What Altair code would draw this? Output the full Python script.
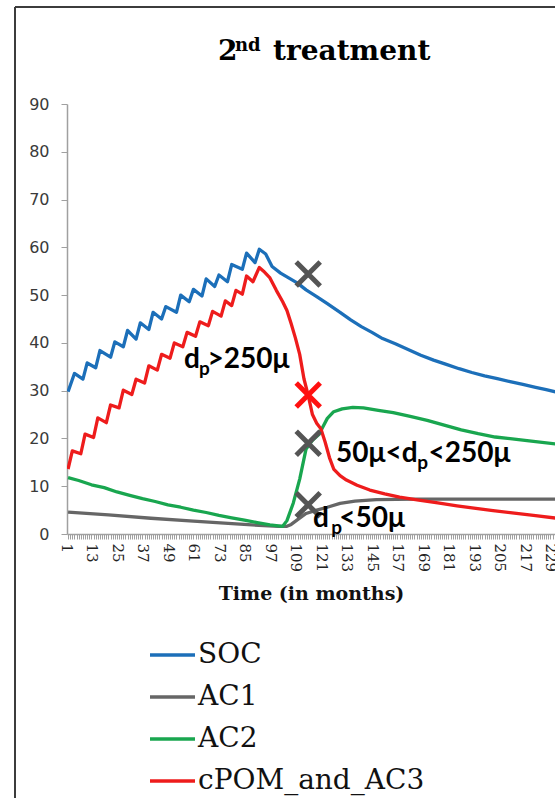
import altair as alt
import pandas as pd

# ---------------- data ----------------
series_names = ["SOC", "AC1", "AC2", "cPOM_and_AC3"]
series_colors = ["#1c6fb9", "#666666", "#19a64f", "#ee1c1c"]

soc_months = [1, 4, 8, 10, 14, 16, 21, 23, 27, 29, 33, 35, 39, 41, 45, 47, 52, 54, 58, 60,
              64, 66, 70, 72, 76, 78, 83, 85, 89, 91, 94, 97, 101, 104, 109, 113, 118, 123,
              129, 134, 139, 144, 149, 155, 161, 167, 173, 179, 185, 191, 197, 203, 209,
              215, 221, 226, 231]
soc_values = [29.8, 33.6, 32.4, 35.8, 34.8, 38.4, 37.0, 40.2, 39.2, 42.6, 40.8, 44.2, 42.8,
              46.4, 45.0, 47.6, 46.4, 50.0, 48.6, 51.2, 49.8, 53.4, 51.8, 54.2, 52.8, 56.4,
              55.4, 58.8, 56.8, 59.6, 58.6, 56.0, 54.6, 53.8, 52.5, 51.1, 49.7, 48.2, 46.4,
              44.8, 43.4, 42.2, 40.9, 39.8, 38.6, 37.4, 36.4, 35.5, 34.6, 33.8, 33.1, 32.5,
              31.9, 31.3, 30.7, 30.2, 29.7]

ac1_months = [1, 20, 40, 60, 80, 100, 104, 106, 109, 113, 118, 123, 129, 136, 146, 165, 231]
ac1_values = [4.6, 4.0, 3.3, 2.7, 2.1, 1.6, 1.6, 2.0, 3.0, 4.3, 5.0, 5.6, 6.4, 6.9, 7.2, 7.3, 7.3]

ac2_months = [1, 6, 12, 18, 24, 30, 36, 42, 48, 54, 60, 66, 72, 78, 84, 90, 96, 102, 104, 107,
              110, 113, 116, 119, 121, 123, 126, 130, 135, 140, 147, 154, 162, 170, 178, 186,
              194, 202, 210, 218, 231]
ac2_values = [11.8, 11.2, 10.3, 9.7, 8.8, 8.1, 7.4, 6.8, 6.1, 5.6, 5.0, 4.5, 3.9, 3.4, 2.9,
              2.4, 1.9, 1.6, 2.8, 6.5, 11.5, 17.8, 19.6, 20.8, 22.5, 24.2, 25.6, 26.2, 26.5,
              26.4, 25.9, 25.4, 24.6, 23.8, 22.8, 21.8, 21.0, 20.3, 19.9, 19.5, 18.8]

cpom_months = [1, 3, 7, 9, 13, 15, 19, 21, 25, 27, 31, 33, 37, 39, 43, 45, 49, 51, 55, 57, 61,
               63, 67, 69, 73, 75, 78, 80, 83, 85, 88, 91, 93, 96, 99, 102, 104, 106, 108,
               110, 112, 114, 116, 118, 120, 122, 124, 126, 129, 132, 137, 143, 150, 157,
               166, 175, 184, 192, 201, 210, 220, 231]
cpom_values = [13.6, 17.4, 16.8, 20.9, 20.2, 24.3, 23.3, 27.0, 26.4, 30.1, 29.2, 32.4, 31.6,
               35.2, 34.3, 37.6, 36.8, 40.0, 39.2, 42.2, 41.4, 44.4, 43.6, 46.6, 45.6, 48.8,
               47.8, 51.0, 50.2, 54.0, 52.8, 55.8, 55.0, 53.6, 51.0, 48.6, 46.8, 44.0, 41.0,
               37.6, 32.5, 29.0, 25.0, 23.2, 22.0, 19.2, 16.0, 13.6, 12.2, 11.3, 10.2, 9.2,
               8.4, 7.7, 7.1, 6.5, 5.9, 5.4, 4.9, 4.4, 3.9, 3.3]

# X markers
marker_months = [114, 114, 114, 114]
marker_values = [54.4, 29.1, 19.0, 6.1]
marker_kind = ["grey", "red", "grey", "grey"]

# annotation pieces (text, anchor month, anchor value)
ann_main_text = ["d", ">250\u03bc", "50\u03bc<", "d", "<250\u03bc", "d", "<50\u03bc"]
ann_main_month = [55.6, 66.6, 127.1, 158.0, 170.6, 116.3, 128.6]
ann_main_value = [34.7, 34.7, 15.1, 15.1, 15.1, 1.5, 1.5]
ann_sub_text = ["p", "p", "p"]
ann_sub_month = [62.6, 165.3, 124.9]
ann_sub_value = [33.3, 13.6, 0.0]

tick_months = list(range(1, 231))
y_ticks = list(range(0, 91, 10))

# ---------------- tables ----------------
rows = []
for name, ms, vs in [("SOC", soc_months, soc_values), ("AC1", ac1_months, ac1_values),
                     ("AC2", ac2_months, ac2_values),
                     ("cPOM_and_AC3", cpom_months, cpom_values)]:
    for m, v in zip(ms, vs):
        rows.append({"series": name, "month": m, "value": v})
df = pd.DataFrame(rows)

mk = pd.DataFrame({"month": marker_months, "value": marker_values, "kind": marker_kind})
am = pd.DataFrame({"t": ann_main_text, "month": ann_main_month, "value": ann_main_value})
asub = pd.DataFrame({"t": ann_sub_text, "month": ann_sub_month, "value": ann_sub_value})

x_scale = alt.Scale(domain=[0.5, 230.14], nice=False, zero=False)
y_scale = alt.Scale(domain=[0, 90], nice=False)

x_axis = alt.Axis(
    values=tick_months, tickCount=1000, format="d",
    labelExpr="(datum.value - 1) % 12 == 0 ? datum.label : ''",
    labelAngle=90, labelAlign="left", labelBaseline="middle", labelFlush=False,
    labelOverlap=False, labelFont="DejaVu Serif", labelFontSize=15, labelColor="#222222",
    labelPadding=4, labelOffset=-2, tickSize=5, tickColor="#a0a0a0", tickWidth=1,
    domainColor="#a0a0a0", domainWidth=1.5, grid=False,
    title="Time (in months)", titleFont="DejaVu Serif", titleFontSize=19,
    titleFontWeight="bold", titleColor="#111111", titlePadding=13)
y_axis = alt.Axis(
    values=y_ticks, tickCount=1000, format="d", labelFont="DejaVu Sans", labelFontSize=16,
    labelColor="#3a3a3a", labelPadding=12, tickSize=6, tickColor="#a0a0a0",
    domainColor="#a0a0a0", domainWidth=1.5, grid=False, title=None)

base_x = alt.X("month:Q", scale=x_scale, axis=x_axis)
base_y = alt.Y("value:Q", scale=y_scale, axis=y_axis)

lines = alt.Chart(df).mark_line(clip=True, strokeWidth=3.3, strokeJoin="round").encode(
    x=base_x, y=base_y,
    color=alt.Color("series:N", scale=alt.Scale(domain=series_names, range=series_colors),
                    sort=series_names,
                    legend=alt.Legend(orient="none", legendX=81, legendY=536, title=None,
                                      symbolType="stroke", symbolSize=2025,
                                      symbolStrokeWidth=3.5, labelFont="DejaVu Serif",
                                      labelFontSize=28, labelColor="#111111",
                                      labelLimit=0, clipHeight=30, rowPadding=12,
                                      labelOffset=1, direction="vertical")),
)

markers = alt.Chart(mk).mark_point(
    shape="M-1,-1L1,1M1,-1L-1,1", size=576, strokeWidth=5, filled=False, opacity=1
).encode(
    x=alt.X("month:Q", scale=x_scale), y=alt.Y("value:Q", scale=y_scale),
    stroke=alt.Stroke("kind:N", scale=alt.Scale(domain=["grey", "red"],
                                                 range=["#555555", "#ff1010"]), legend=None),
)

ann_big = alt.Chart(am).mark_text(
    font="Lato, 'Open Sans', sans-serif", fontSize=28, fontWeight="bold", align="left",
    baseline="alphabetic", color="#000000"
).encode(x=alt.X("month:Q", scale=x_scale), y=alt.Y("value:Q", scale=y_scale), text="t:N")

ann_small = alt.Chart(asub).mark_text(
    font="Lato, 'Open Sans', sans-serif", fontSize=19, fontWeight="bold", align="left",
    baseline="alphabetic", color="#000000"
).encode(x=alt.X("month:Q", scale=x_scale), y=alt.Y("value:Q", scale=y_scale), text="t:N")

# title pieces (2nd treatment)
t1 = alt.Chart(pd.DataFrame({"t": ["2"]})).mark_text(
    font="DejaVu Serif", fontSize=28, fontWeight="bold", align="left", baseline="alphabetic",
    color="#000000").encode(x=alt.value(151), y=alt.value(-44), text="t:N")
t2 = alt.Chart(pd.DataFrame({"t": ["nd"]})).mark_text(
    font="DejaVu Serif", fontSize=18, fontWeight="bold", align="left", baseline="alphabetic",
    color="#000000").encode(x=alt.value(168), y=alt.value(-53), text="t:N")
t3 = alt.Chart(pd.DataFrame({"t": ["treatment"]})).mark_text(
    font="DejaVu Serif", fontSize=28, fontWeight="bold", align="left", baseline="alphabetic",
    color="#000000").encode(x=alt.value(206), y=alt.value(-44), text="t:N")

frame_top = alt.Chart(pd.DataFrame({"a": [0]})).mark_rule(
    color="#3c3c3c", strokeWidth=2).encode(x=alt.value(-52), x2=alt.value(500),
                                           y=alt.value(-97))
frame_left = alt.Chart(pd.DataFrame({"a": [0]})).mark_rule(
    color="#3c3c3c", strokeWidth=2).encode(x=alt.value(-52), y=alt.value(-97),
                                           y2=alt.value(700))

chart = alt.layer(frame_top, frame_left, lines, markers, ann_big, ann_small, t1, t2, t3).properties(
    width=488, height=430,
    padding={"left": 67, "top": 104, "right": 0, "bottom": 264},
    autosize=alt.AutoSizeParams(type="none"),
    background="white",
).configure_view(stroke=None)

chart.save("out.html", embed_options={"renderer": "svg", "actions": False})
